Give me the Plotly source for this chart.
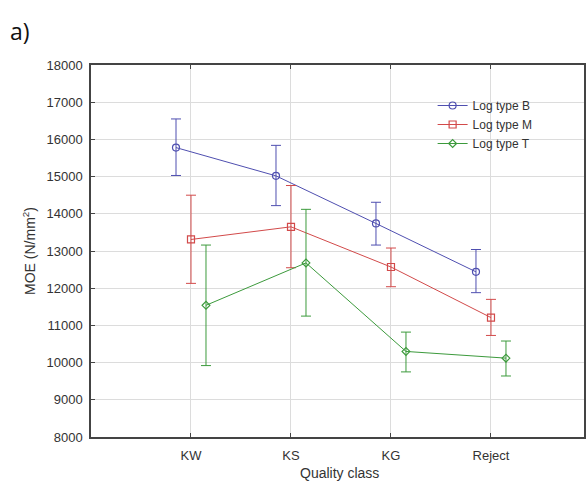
import plotly.graph_objects as go

categories = ["KW", "KS", "KG", "Reject"]
series_names = ["Log type B", "Log type M", "Log type T"]

b_mean = [15780, 15020, 13740, 12440]
b_upper = [16550, 15840, 14310, 13040]
b_lower = [15030, 14220, 13160, 11880]

m_mean = [13310, 13650, 12570, 11210]
m_upper = [14500, 14760, 13080, 11700]
m_lower = [12130, 12550, 12040, 10730]

t_mean = [11540, 12680, 10300, 10120]
t_upper = [13160, 14120, 10820, 10580]
t_lower = [9920, 11250, 9750, 9640]

y_ticks = [8000, 9000, 10000, 11000, 12000, 13000, 14000, 15000, 16000, 17000, 18000]
y_ticktext = [str(v) for v in y_ticks]

colors = ["#4f4fb0", "#d24a4a", "#3c9a3c"]
symbols = ["circle-open", "square-open", "diamond-open"]
offsets = [-0.15, 0.0, 0.15]
sizes = [7, 7, 6]

fig = go.Figure()
for name, mean, up, lo, col, sym, off, sz in zip(
    series_names,
    [b_mean, m_mean, t_mean],
    [b_upper, m_upper, t_upper],
    [b_lower, m_lower, t_lower],
    colors, symbols, offsets, sizes,
):
    xs = [i + off for i in range(len(categories))]
    fig.add_trace(go.Scatter(
        x=xs, y=mean, name=name, mode="lines+markers",
        line=dict(color=col, width=1),
        marker=dict(symbol=sym, size=sz, color=col, line=dict(width=1.2, color=col)),
        error_y=dict(type="data", symmetric=False,
                     array=[u - m for u, m in zip(up, mean)],
                     arrayminus=[m - l for m, l in zip(mean, lo)],
                     color=col, thickness=1, width=5),
    ))

font_main = "Liberation Sans, Arial, sans-serif"

W, H = 588, 483
ML, MT, MR, MB = 91, 65, 2, 46
plot_w = W - ML - MR
plot_h = H - MT - MB
px_per_cat = 100.4
x_max = -1 + plot_w / px_per_cat

fig.update_layout(
    width=W, height=H,
    margin=dict(l=ML, r=MR, t=MT, b=MB),
    paper_bgcolor="white", plot_bgcolor="white",
    font=dict(family=font_main, size=13, color="#333333"),
    showlegend=True,
    legend=dict(x=(434 - ML) / plot_w, y=1 - (91 - MT) / plot_h, xanchor="left", yanchor="top",
                bgcolor="rgba(0,0,0,0)", borderwidth=0,
                font=dict(size=12, color="#333333"), tracegroupgap=0,
                itemwidth=30),
    xaxis=dict(
        range=[-1, x_max], tickvals=list(range(len(categories))), ticktext=categories,
        showgrid=True, gridcolor="#dcdcdc", gridwidth=1,
        showline=True, linecolor="#444444", linewidth=1.5, mirror="ticks",
        ticks="inside", ticklen=4, tickcolor="#444444",
        zeroline=False, ticklabelstandoff=6,
    ),
    yaxis=dict(
        range=[8000, 18000], tickvals=y_ticks, ticktext=y_ticktext,
        showgrid=True, gridcolor="#dcdcdc", gridwidth=1,
        showline=True, linecolor="#444444", linewidth=1.5, mirror=True,
        ticks="inside", ticklen=4, tickcolor="#444444",
        zeroline=False, ticklabelstandoff=4,
        title=dict(text="MOE (N/mm<sup>2</sup>)", font=dict(size=14, color="#333333"), standoff=8),
    ),
)
fig.add_annotation(text="Quality class", xref="paper", yref="paper",
                   x=(341 - ML) / plot_w, y=-(473 - (H - MB)) / plot_h,
                   xanchor="center", yanchor="middle", showarrow=False,
                   font=dict(size=14, color="#333333"))
fig.add_annotation(text="a)", xref="paper", yref="paper",
                   x=(8 - ML) / plot_w, y=1 + (MT - 31) / plot_h,
                   xanchor="left", yanchor="middle", showarrow=False,
                   font=dict(family="Open Sans, Noto Sans, sans-serif", size=23, color="#111111"))

fig.write_html(
    "out.html",
    config={"displayModeBar": False},
    post_script="document.body.style.margin='0';document.body.style.overflow='hidden';"
                "document.documentElement.style.overflow='hidden';",
)
